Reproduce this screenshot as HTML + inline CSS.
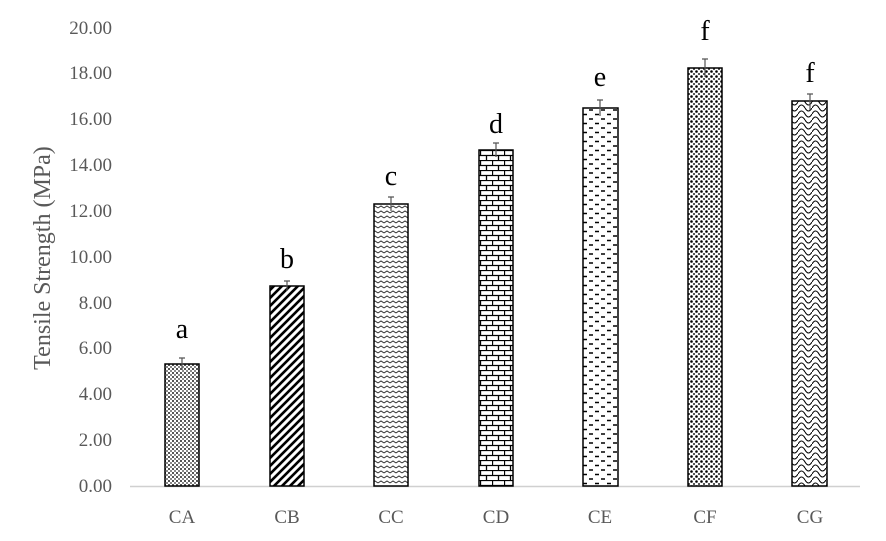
<!DOCTYPE html>
<html><head><style>body{margin:0;background:#fff}</style></head><body>
<svg width="886" height="536" xmlns="http://www.w3.org/2000/svg" font-family="Liberation Serif, serif">
<defs>
<pattern id="pA" width="4" height="4" patternUnits="userSpaceOnUse"><rect width="4" height="4" fill="#fff"/><rect width="2" height="2" fill="#555"/><rect x="2" y="2" width="2" height="2" fill="#888"/></pattern>
<pattern id="pB" width="8" height="8" patternUnits="userSpaceOnUse"><rect width="8" height="8" fill="#fff"/><path d="M-2,10 L10,-2 M-6,6 L6,-6 M2,14 L14,2" stroke="#000" stroke-width="2.6"/></pattern>
<pattern id="pC" width="6" height="5" patternUnits="userSpaceOnUse"><rect width="6" height="5" fill="#fff"/><path d="M0,3 L3,1 L6,3" stroke="#333" stroke-width="1" fill="none"/></pattern>
<pattern id="pD" width="12" height="10" patternUnits="userSpaceOnUse"><rect width="12" height="10" fill="#fff"/><path d="M0,0.5 H12 M0,5.5 H12 M0.5,0 V5 M6.5,5 V10" stroke="#000" stroke-width="1.3"/></pattern>
<pattern id="pE" width="12" height="9" patternUnits="userSpaceOnUse"><rect width="12" height="9" fill="#fff"/><path d="M1,2 H5 M7,6.5 H11" stroke="#000" stroke-width="1.4"/></pattern>
<pattern id="pF" width="5" height="5" patternUnits="userSpaceOnUse"><rect width="5" height="5" fill="#fff"/><circle cx="1.5" cy="1.5" r="1.3" fill="#000"/><circle cx="4" cy="4" r="1" fill="#222"/></pattern>
<pattern id="pG" width="14" height="12" patternUnits="userSpaceOnUse"><rect width="14" height="12" fill="#fff"/><path d="M0,6 Q3.5,0 7,6 T14,6 M0,12 Q3.5,6 7,12 M7,0 Q10.5,6 14,0" stroke="#000" stroke-width="1.1" fill="none"/></pattern>
</defs>
<g fill="#595959" font-size="19" text-anchor="end">
<text x="112" y="492">0.00</text><text x="112" y="446">2.00</text><text x="112" y="400">4.00</text><text x="112" y="354">6.00</text><text x="112" y="309">8.00</text><text x="112" y="263">10.00</text><text x="112" y="217">12.00</text><text x="112" y="171">14.00</text><text x="112" y="125">16.00</text><text x="112" y="79">18.00</text><text x="112" y="34">20.00</text>
</g>
<text transform="translate(50,258) rotate(-90)" text-anchor="middle" fill="#595959" font-size="24">Tensile Strength (MPa)</text>
<line x1="130" y1="486.5" x2="860" y2="486.5" stroke="#d0d0d0" stroke-width="1.5"/>
<g stroke="#000" stroke-width="1.5">
<rect x="165" y="364" width="34" height="122" fill="url(#pA)"/>
<rect x="270" y="286" width="34" height="200" fill="url(#pB)"/>
<rect x="374" y="204" width="34" height="282" fill="url(#pC)"/>
<rect x="479" y="150" width="34" height="336" fill="url(#pD)"/>
<rect x="583" y="108" width="35" height="378" fill="url(#pE)"/>
<rect x="688" y="68" width="34" height="418" fill="url(#pF)"/>
<rect x="792" y="101" width="35" height="385" fill="url(#pG)"/>
</g>
<g stroke="#555" stroke-width="1.2">
<path d="M182,358V370M179,358H185"/>
<path d="M287,281V291M284,281H290"/>
<path d="M391,197V211M388,197H394"/>
<path d="M496,143V157M493,143H499"/>
<path d="M600,100V116M597,100H603"/>
<path d="M705,59V77M702,59H708"/>
<path d="M810,94V110M807,94H813"/>
</g>
<g font-size="28" text-anchor="middle" fill="#000">
<text x="182" y="338">a</text><text x="287" y="268">b</text><text x="391" y="185">c</text><text x="496" y="133">d</text><text x="600" y="86">e</text><text x="705" y="40">f</text><text x="810" y="82">f</text>
</g>
<g font-size="19" text-anchor="middle" fill="#595959">
<text x="182" y="523">CA</text><text x="287" y="523">CB</text><text x="391" y="523">CC</text><text x="496" y="523">CD</text><text x="600" y="523">CE</text><text x="705" y="523">CF</text><text x="810" y="523">CG</text>
</g>
</svg>
</body></html>
